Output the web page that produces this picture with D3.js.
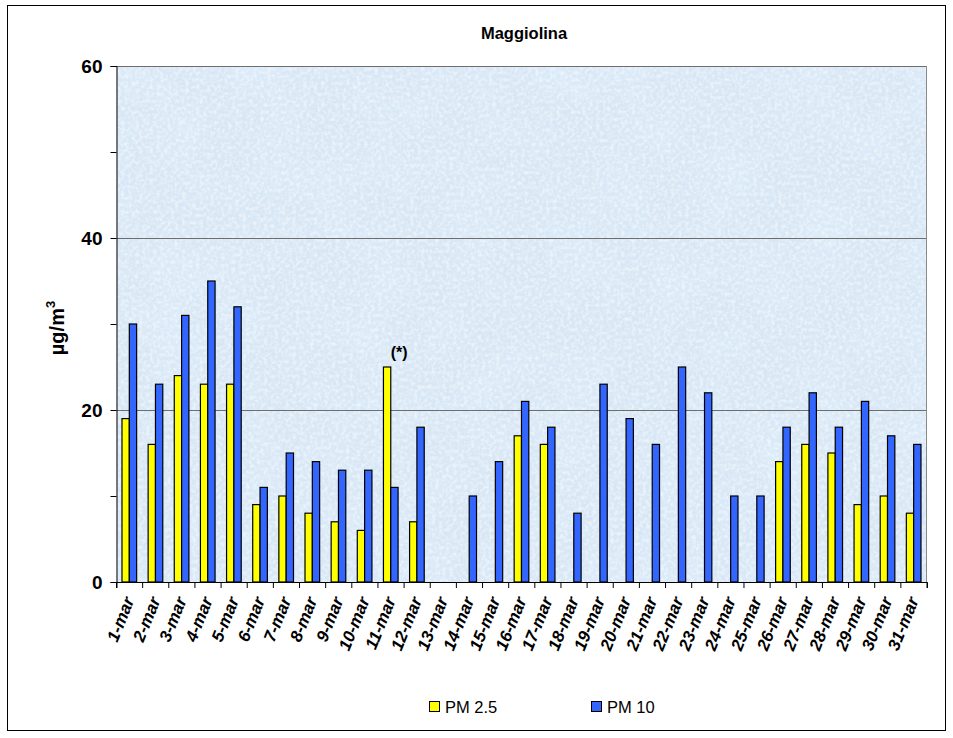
<!DOCTYPE html>
<html><head><meta charset="utf-8">
<script src="https://cdn.jsdelivr.net/npm/d3@7"></script>
<style>body{margin:0;background:#fff;font-family:Arial,"Liberation Sans",sans-serif}</style>
</head><body>
<svg id="c" width="953" height="738"></svg>
<script>
const categories = ["1-mar","2-mar","3-mar","4-mar","5-mar","6-mar","7-mar","8-mar","9-mar","10-mar","11-mar","12-mar","13-mar","14-mar","15-mar","16-mar","17-mar","18-mar","19-mar","20-mar","21-mar","22-mar","23-mar","24-mar","25-mar","26-mar","27-mar","28-mar","29-mar","30-mar","31-mar"];
const pm25 = [19,16,24,23,23,9,10,8,7,6,25,7,null,null,null,17,16,null,null,null,null,null,null,null,null,14,16,15,9,10,8];
const pm10 = [30,23,31,35,32,11,15,14,13,13,11,18,null,10,14,21,18,8,23,19,16,25,22,10,10,18,22,18,21,17,16];
const yTicks = [0,20,40,60];
const yMinor = [10,30,50];
const seriesNames = ["PM 2.5","PM 10"];
const colors = ["#ffff00","#3366ff"];

const svg = d3.select("#c");
const L=116.5, R=927, T=66, B=582;

svg.append("rect").attr("x",7.5).attr("y",5.5).attr("width",938).attr("height",725)
  .attr("fill","#fff").attr("stroke","#000").attr("stroke-width",1);

const defs = svg.append("defs");
const f = defs.append("filter").attr("id","tex").attr("x",0).attr("y",0).attr("width","100%").attr("height","100%");
f.append("feTurbulence").attr("type","fractalNoise").attr("baseFrequency","0.28").attr("numOctaves",3).attr("seed",7).attr("result","n");
f.append("feColorMatrix").attr("in","n").attr("type","matrix")
  .attr("values","0 0 0 0 1  0 0 0 0 1  0 0 0 0 1  0 0 0 -2.2 1.35").attr("result","w");
f.append("feComposite").attr("in","w").attr("in2","SourceGraphic").attr("operator","in");
const f2 = defs.append("filter").attr("id","tex2").attr("x",0).attr("y",0).attr("width","100%").attr("height","100%");
f2.append("feTurbulence").attr("type","fractalNoise").attr("baseFrequency","0.02").attr("numOctaves",2).attr("seed",3).attr("result","n");
f2.append("feColorMatrix").attr("in","n").attr("type","matrix")
  .attr("values","0 0 0 0 0.72  0 0 0 0 0.85  0 0 0 0 0.97  0 0 0 -3 1.7").attr("result","w");
f2.append("feComposite").attr("in","w").attr("in2","SourceGraphic").attr("operator","in");

svg.append("rect").attr("x",L).attr("y",T).attr("width",R-L).attr("height",B-T).attr("fill","#d8e7f5");
svg.append("rect").attr("x",L).attr("y",T).attr("width",R-L).attr("height",B-T).attr("fill","#fff").attr("filter","url(#tex2)").attr("opacity",0.5);
svg.append("rect").attr("x",L).attr("y",T).attr("width",R-L).attr("height",B-T).attr("fill","#fff").attr("filter","url(#tex)").attr("opacity",0.55);

const x = d3.scaleBand().domain(categories).range([L,R]);
const y = d3.scaleLinear().domain([0,60]).range([B,T]);

svg.append("g").selectAll("line").data(yTicks.filter(d=>d>0)).join("line")
  .attr("x1",L).attr("x2",R).attr("y1",d=>Math.round(y(d))+0.5).attr("y2",d=>Math.round(y(d))+0.5)
  .attr("stroke","#6e6e6e").attr("stroke-width",1);
svg.append("line").attr("x1",R-0.5).attr("x2",R-0.5).attr("y1",T).attr("y2",B).attr("stroke","#8a8a8a");

const bw = x.bandwidth()*0.28;
const off = x.bandwidth()*0.21;
[pm25,pm10].forEach((arr,si)=>{
  svg.append("g").selectAll("rect").data(categories.map((c,i)=>({c,v:arr[i]})).filter(d=>d.v!=null)).join("rect")
    .attr("x",d=>x(d.c)+off+si*bw).attr("y",d=>y(d.v)).attr("width",bw).attr("height",d=>B-y(d.v))
    .attr("fill",colors[si]).attr("stroke","#000").attr("stroke-width",1.2);
});

const yAxis = d3.axisLeft(y).tickValues(yTicks).tickSize(6).tickPadding(8).tickFormat(d3.format("d"));
const gy = svg.append("g").attr("transform",`translate(${L},0)`).call(yAxis);
gy.selectAll("text").attr("font-size",19).attr("font-weight","bold").attr("font-family","Arial, Liberation Sans, sans-serif").attr("fill","#000").attr("dy","0.36em");
gy.select(".domain").attr("stroke","#000");
svg.append("g").attr("transform",`translate(${L},0)`).call(d3.axisLeft(y).tickValues(yMinor).tickSize(6).tickFormat(""))
  .select(".domain").remove();

const xAxis = d3.axisBottom(x).tickSize(6).tickSizeOuter(6).tickFormat("");
const gx = svg.append("g").attr("transform",`translate(0,${B})`).call(xAxis);
gx.selectAll(".tick").attr("transform",d=>`translate(${x(d)},0)`);
svg.append("line").attr("x1",R).attr("x2",R).attr("y1",B).attr("y2",B+6).attr("stroke","#000");
gx.select(".domain").attr("stroke","#000");

svg.append("g").selectAll("text").data(categories).join("text")
  .attr("transform",d=>`translate(${x(d)+x.bandwidth()/2+5},${B+18}) rotate(-68)`)
  .attr("text-anchor","end").attr("font-size",17).attr("font-weight","bold").attr("font-style","italic")
  .text(d=>d);

svg.append("text").attr("x",524).attr("y",39).attr("text-anchor","middle").attr("font-size",16.5).attr("font-weight","bold").text("Maggiolina");

const yl = svg.append("text").attr("transform",`translate(64,${(T+B)/2+4}) rotate(-90)`).attr("text-anchor","middle")
  .attr("font-size",20).attr("font-weight","bold");
yl.append("tspan").text("µg/m");
yl.append("tspan").attr("font-size",13).attr("dy",-9).text("3");

svg.append("text").attr("x",x("11-mar")+off+bw/2+12).attr("y",y(25)-9).attr("text-anchor","middle")
  .attr("font-size",16).attr("font-weight","bold").text("(*)");

const lg = svg.append("g");
[[429,0],[591,1]].forEach(([lx,i])=>{
  lg.append("rect").attr("x",lx+0.5).attr("y",701.5).attr("width",10).attr("height",10).attr("fill",colors[i]).attr("stroke","#000");
  lg.append("text").attr("x",lx+16).attr("y",712.5).attr("font-size",16.5).text(seriesNames[i]);
});
</script>
</body></html>
